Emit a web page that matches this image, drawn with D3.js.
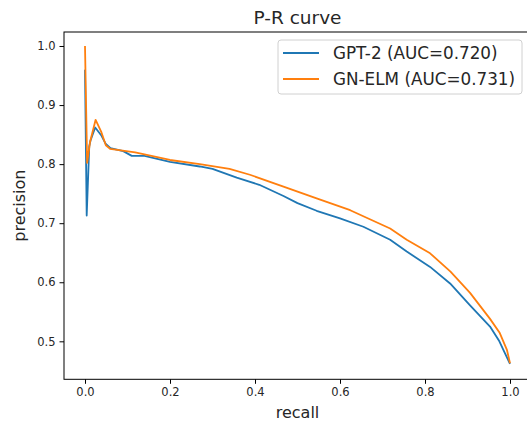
<!DOCTYPE html>
<html><head><meta charset="utf-8">
<script src="https://cdn.jsdelivr.net/npm/d3@7"></script>
<style>
body{margin:0;background:#fff;}
text{font-family:"DejaVu Sans",sans-serif;fill:#262626;}
</style></head>
<body><svg id="c" width="527" height="421"></svg>
<script>
const gpt2Recall = [0, 0.004, 0.01, 0.013, 0.024, 0.038, 0.049, 0.06, 0.09, 0.11, 0.14, 0.2, 0.27, 0.3, 0.357, 0.41, 0.467, 0.5, 0.545, 0.6, 0.655, 0.718, 0.757, 0.812, 0.859, 0.906, 0.953, 0.975, 0.988, 1.0];
const gpt2Precision = [0.96, 0.713, 0.83, 0.84, 0.862, 0.849, 0.834, 0.827, 0.822, 0.814, 0.814, 0.804, 0.796, 0.792, 0.777, 0.765, 0.746, 0.734, 0.721, 0.708, 0.694, 0.672, 0.652, 0.626, 0.598, 0.561, 0.525, 0.5, 0.48, 0.462];
const gnelmRecall = [0, 0.005, 0.012, 0.025, 0.038, 0.049, 0.059, 0.118, 0.2, 0.27, 0.34, 0.388, 0.467, 0.545, 0.624, 0.718, 0.757, 0.812, 0.86, 0.906, 0.953, 0.976, 0.993, 1.0];
const gnelmPrecision = [1.0, 0.802, 0.838, 0.875, 0.855, 0.832, 0.826, 0.82, 0.807, 0.8, 0.792, 0.782, 0.762, 0.742, 0.722, 0.691, 0.672, 0.649, 0.618, 0.582, 0.538, 0.514, 0.485, 0.463];
const seriesNames = ["GPT-2 (AUC=0.720)", "GN-ELM (AUC=0.731)"];
const colors = ["#1f77b4", "#ff7f0e"];
const xTicks = [0, 0.2, 0.4, 0.6, 0.8, 1.0];
const yTicks = [0.5, 0.6, 0.7, 0.8, 0.9, 1.0];

const svg = d3.select("#c");
const L = 64, R = 531, T = 32, B = 379.3;
const x = d3.scaleLinear().domain([-0.05, 1.05]).range([63.75, 531.25]);
const y = d3.scaleLinear().domain([0.4357, 1.0237]).range([B, T]);

const series = [
  gpt2Recall.map((r,i)=>[r, gpt2Precision[i]]),
  gnelmRecall.map((r,i)=>[r, gnelmPrecision[i]])
];
const line = d3.line().x(d=>x(d[0])).y(d=>y(d[1]));
series.forEach((s,i)=>{
  svg.append("path").datum(s).attr("d", line).attr("fill","none")
    .attr("stroke", colors[i]).attr("stroke-width", 1.8).attr("stroke-linejoin","round");
});

// frame
svg.append("rect").attr("x", L).attr("y", T).attr("width", R-L).attr("height", B-T)
  .attr("fill","none").attr("stroke","#000").attr("stroke-width",1);

const xa = svg.append("g").attr("transform",`translate(0,${B})`)
  .call(d3.axisBottom(x).tickValues(xTicks).tickFormat(d3.format(".1f")).tickSize(4.5).tickPadding(4));
const ya = svg.append("g").attr("transform",`translate(${L},0)`)
  .call(d3.axisLeft(y).tickValues(yTicks).tickFormat(d3.format(".1f")).tickSize(4.5).tickPadding(4));
[xa, ya].forEach(a=>{
  a.select(".domain").remove();
  a.selectAll("text").attr("font-size", "11.5px").attr("font-family","DejaVu Sans").attr("fill","#262626");
  a.selectAll("line").attr("stroke","#000");
});

svg.append("text").attr("x", (L+R)/2).attr("y", 24).attr("text-anchor","middle")
  .attr("font-size","18.5px").text("P-R curve");
svg.append("text").attr("x", 297.5).attr("y", 418).attr("text-anchor","middle")
  .attr("font-size","16px").text("recall");
svg.append("text").attr("transform", `translate(25,${(T+B)/2}) rotate(-90)`).attr("text-anchor","middle")
  .attr("font-size","16px").text("precision");

// legend
const lg = svg.append("g");
lg.append("rect").attr("x", 278).attr("y", 40).attr("width", 244).attr("height", 54)
  .attr("rx", 3).attr("fill","#fff").attr("fill-opacity",0.8).attr("stroke","#d0d0d0");
seriesNames.forEach((n,i)=>{
  const yy = 53 + i*26;
  lg.append("line").attr("x1", 283).attr("x2", 319).attr("y1", yy).attr("y2", yy)
    .attr("stroke", colors[i]).attr("stroke-width", 1.8);
  lg.append("text").attr("x", 333).attr("y", yy + 6).attr("font-size","16.8px").text(n);
});
</script></body></html>
